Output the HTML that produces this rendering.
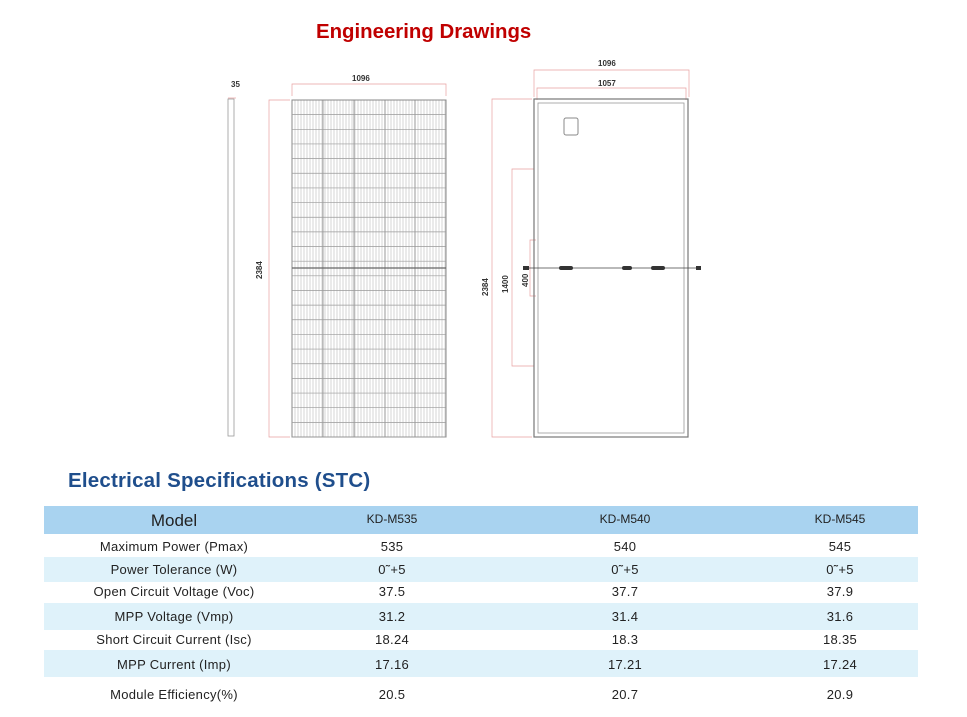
<!DOCTYPE html>
<html><head><meta charset="utf-8"><style>
body{margin:0;background:#fff;width:967px;height:717px;overflow:hidden;font-family:"Liberation Sans",sans-serif}
.t{position:absolute;font-weight:bold}
</style></head><body>
<div style="position:relative;width:967px;height:717px">
<div class="t" style="left:316px;top:21px;font-size:20.4px;color:#c00000">Engineering Drawings</div>
<svg width="967" height="460" style="position:absolute;left:0;top:0">
<defs>
<pattern id="h" width="3" height="15" patternUnits="userSpaceOnUse"><line x1="1" y1="0" x2="1" y2="15" stroke="#c4c4c4" stroke-width="0.7"/></pattern>
</defs>
<g font-family="Liberation Sans" font-size="8" fill="#333" font-weight="bold">
<text x="231" y="87">35</text>
<text x="352" y="81">1096</text>
<text x="598" y="66">1096</text>
<text x="598" y="86">1057</text>
<text transform="translate(262,279) rotate(-90)">2384</text>
<text transform="translate(488,296) rotate(-90)">2384</text>
<text transform="translate(508,293) rotate(-90)">1400</text>
<text transform="translate(528,287) rotate(-90)">400</text>
</g>
<g stroke="#e8a0a0" stroke-width="0.7" fill="none">
<polyline points="292,96 292,84 446,84 446,96"/>
<polyline points="290,100 269,100 269,437 290,437"/>
<polyline points="534,97 534,70 689,70 689,97"/>
<polyline points="537,100 537,88 686,88 686,100"/>
<polyline points="532,99 492,99 492,437 532,437"/>
<polyline points="534,169 512,169 512,366 534,366"/>
<polyline points="536,240 530,240 530,296 536,296"/>
<line x1="228" y1="98" x2="236" y2="98"/>
</g>
<rect x="228" y="99" width="6" height="337" fill="none" stroke="#999" stroke-width="0.8"/>
<rect x="292" y="100" width="154" height="337" fill="url(#h)" stroke="#888" stroke-width="1"/>
<g stroke="#888" stroke-width="0.8">
<line x1="323" y1="100" x2="323" y2="437"/><line x1="354" y1="100" x2="354" y2="437"/>
<line x1="385" y1="100" x2="385" y2="437"/><line x1="415" y1="100" x2="415" y2="437"/>
</g>
<g stroke="#999" stroke-width="0.7" id="rows"></g>
<line x1="292" y1="268" x2="446" y2="268" stroke="#666" stroke-width="1.2"/>
<rect x="534" y="99" width="154" height="338" fill="none" stroke="#777" stroke-width="1.2"/>
<rect x="538" y="103" width="146" height="330" fill="none" stroke="#999" stroke-width="0.8"/>
<rect x="564" y="118" width="14" height="17" rx="2" fill="none" stroke="#888"/>
<line x1="524" y1="268" x2="700" y2="268" stroke="#444" stroke-width="0.7"/>
<g fill="#333"><rect x="523" y="266" width="6" height="4"/><rect x="559" y="266" width="14" height="4" rx="2"/><rect x="622" y="266" width="10" height="4" rx="2"/><rect x="651" y="266" width="14" height="4" rx="2"/><rect x="696" y="266" width="5" height="4"/></g>
</svg>
<script>
var g=document.getElementById('rows'),s='';
for(var i=0;i<23;i++){var y=100+(i+1)*337/23;s+='<line x1="292" y1="'+y+'" x2="446" y2="'+y+'"/>';}
g.innerHTML=s;
</script>
<div class="t" style="left:68px;top:469px;font-size:20.5px;color:#1f4e8c;letter-spacing:0.2px">Electrical Specifications (STC)</div>
<div style="position:absolute;left:44px;top:506px;width:874px;height:28px;background:#a9d3f0"></div>
<div style="position:absolute;left:44px;top:557px;width:874px;height:25px;background:#dff2fa"></div>
<div style="position:absolute;left:44px;top:603px;width:874px;height:27px;background:#dff2fa"></div>
<div style="position:absolute;left:44px;top:650px;width:874px;height:27px;background:#dff2fa"></div>
<div style="position:absolute;left:0;top:0;font-size:13px;color:#222">
<div style="position:absolute;left:74px;width:200px;text-align:center;top:511px;font-size:17px">Model</div>
<div style="position:absolute;left:292px;width:200px;text-align:center;top:512px;font-size:12px">KD-M535</div>
<div style="position:absolute;left:525px;width:200px;text-align:center;top:512px;font-size:12px">KD-M540</div>
<div style="position:absolute;left:740px;width:200px;text-align:center;top:512px;font-size:12px">KD-M545</div>
</div>
<div id="tb"></div>
<script>
var r=[["Maximum Power (Pmax)","535","540","545",539],["Power Tolerance (W)","0˜+5","0˜+5","0˜+5",562],["Open Circuit Voltage (Voc)","37.5","37.7","37.9",584],["MPP Voltage (Vmp)","31.2","31.4","31.6",609],["Short Circuit Current (Isc)","18.24","18.3","18.35",632],["MPP Current (Imp)","17.16","17.21","17.24",657],["Module Efficiency(%)","20.5","20.7","20.9",687]];
var h='',c=[174,392,625,840];
r.forEach(function(a){for(var k=0;k<4;k++)h+='<div style="position:absolute;left:'+(c[k]-120)+'px;width:240px;text-align:center;top:'+a[4]+'px;font-size:13px;color:#222;letter-spacing:0.3px">'+a[k]+'</div>';});
document.getElementById('tb').innerHTML=h;
</script>
</div>
</body></html>
